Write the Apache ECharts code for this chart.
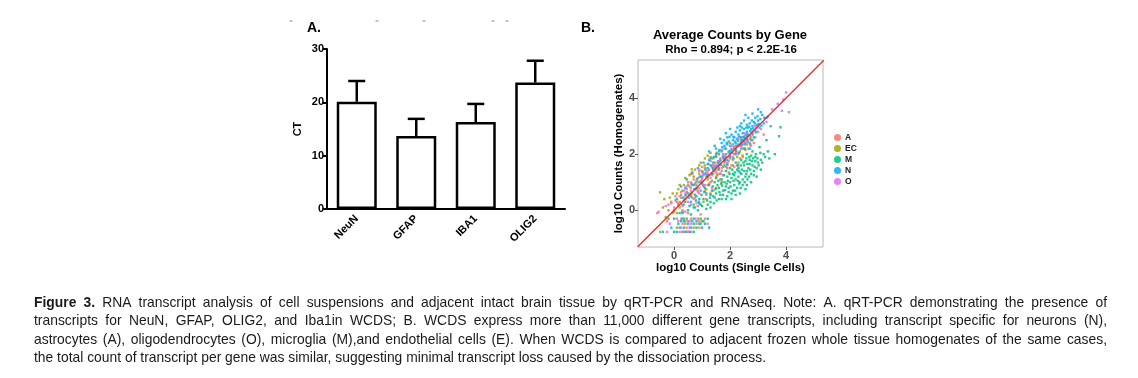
<!DOCTYPE html>
<html><head><meta charset="utf-8">
<script src="https://cdn.jsdelivr.net/npm/echarts@6/dist/echarts.min.js"></script>
<style>html,body{margin:0;padding:0;background:#fff}#c{width:1138px;height:378px}</style>
</head><body><div id="c"></div>
<script>
// ---------- Panel A data ----------
const categories = ['NeuN', 'GFAP', 'IBA1', 'OLIG2'];
const ctMean = [20.1, 13.7, 16.3, 23.7];
const ctErr = [3.9, 3.2, 3.4, 4.1];

// ---------- Panel B data (log10 single cells, log10 homogenates) ----------
const seriesNames = ['A', 'EC', 'M', 'N', 'O'];
const ptsA = [[0.0,0.1],[0.2,0.3],[0.4,0.5],[0.6,0.7],[0.8,0.9],[1.0,1.1],[1.2,1.3],[1.4,1.45],[1.6,1.6],[1.8,1.75],[2.0,1.95],[2.2,2.15],[2.4,2.35],[2.6,2.5],[2.8,2.75],[1.1,0.7],[1.3,1.0],[1.5,1.2],[1.7,1.4],[1.9,1.6],[2.1,1.8],[2.3,2.0],[2.5,2.2],[0.5,0.9],[0.7,1.1],[0.9,1.3],[1.1,1.5],[1.3,1.75],[1.5,1.95],[1.7,2.15],[0.3,0.0],[0.6,0.2],[0.9,0.6],[1.2,0.9],[2.7,2.4],[2.9,2.6],[3.0,2.8],[-0.6,-0.1],[0.1,-0.3],[0.6,-0.3],[1.1,-0.3],[0.4,-0.39],[0.9,-0.39],[0.3,-0.48],[0.8,-0.48],[0.45,-0.62],[0.9,-0.62],[0.2,-0.77],[0.6,-0.77],[3.35,3.35],[3.2,2.7],[1.65,1.1],[1.95,1.35],[1.35,1.55],[1.55,1.45],[1.75,1.85],[2.05,2.2],[2.25,1.6],[2.45,1.9],[0.75,0.45],[1.05,0.85],
  [0.15,0.25],[0.35,0.2],[0.55,0.55],[0.65,0.9],[0.85,0.7],[0.95,1.05],[1.15,1.2],[1.25,0.95],[1.35,1.25],[1.45,1.7],[1.55,1.3],[1.65,1.85],[1.85,1.9],[1.95,1.75],[2.05,1.6],[2.15,2.0],[2.25,2.3],[2.35,1.85],[2.55,2.4],[2.65,2.2],[2.75,2.6],[2.85,2.4],[0.45,0.75],[-0.2,0.2],[-0.05,-0.1],[1.75,1.25],[2.4,2.6],[2.95,2.95],
  [0.5,-0.1],[0.85,0.15],[1.15,0.4],[0.25,0.65],[0.05,0.5],[0.65,1.3],[1.0,1.55],[1.4,0.7],[0.95,-0.15],[-0.25,-0.39]];
const ptsEC = [[-0.5,0.64],[-0.1,0.3],[0.1,0.6],[0.3,0.7],[0.5,1.0],[0.7,1.2],[0.9,1.4],[1.1,1.6],[1.3,1.9],[1.5,2.0],[0.2,0.1],[0.4,0.4],[0.6,0.6],[0.8,0.75],[1.0,0.95],[1.2,1.1],[1.4,1.3],[1.6,1.45],[1.8,1.7],[2.0,1.85],[2.2,2.05],[2.4,2.3],[2.6,2.35],[0.63,1.46],[0.8,1.0],[1.0,1.4],[1.2,1.65],[1.4,1.85],[1.6,2.1],[1.8,2.2],[2.0,2.4],[1.9,1.5],[2.1,1.6],[2.3,1.7],[0.0,-0.05],[1.5,0.8],[1.7,1.0],[0.35,-0.3],[0.85,-0.3],[0.5,-0.39],[1.0,-0.39],[0.4,-0.48],[0.95,-0.48],[0.1,-0.62],[0.7,-0.62],[0.45,-0.77],[-0.2,0.0],[0.05,0.35],[2.5,2.6],[2.7,2.55],[-0.3,-0.25],[0.85,1.15],[1.05,1.25],[1.25,1.45],[1.45,1.6],[1.65,1.75],[0.55,0.85],[0.25,0.45],
  [-0.35,0.4],[-0.15,0.45],[0.15,0.2],[0.25,0.55],[0.35,0.9],[0.45,0.65],[0.65,0.45],[0.75,0.95],[0.95,1.2],[1.15,1.35],[1.35,1.6],[1.55,1.7],[1.75,1.95],[1.95,2.05],[2.15,2.25],[2.35,2.1],[2.55,2.15],[1.15,0.75],[1.35,1.05],[1.55,1.25],[1.75,1.55],[0.9,1.6],[1.1,1.85],[1.3,2.05],[0.6,1.3],[-0.4,0.1],[0.1,-0.1],[2.25,1.9],[2.45,1.95],[2.8,2.5],
  [0.2,0.9],[0.4,1.15],[0.55,1.25],[0.15,0.75],[-0.05,0.6],[0.75,1.45],[0.95,1.7],[1.2,1.95],[0.3,-0.05],[0.7,0.2],[1.05,0.3],[1.3,0.6],[-0.5,-0.77]];
const ptsM = [[1.8,1.0],[1.9,1.2],[2.0,1.0],[2.1,1.3],[2.2,1.1],[2.3,1.5],[2.4,1.3],[2.5,1.6],[2.6,1.4],[2.7,1.8],[2.8,1.6],[2.9,1.9],[3.0,1.7],[1.6,0.8],[1.7,1.1],[1.5,0.6],[1.4,0.5],[1.3,0.3],[1.2,0.2],[1.35,0.7],[1.55,0.9],[1.75,0.7],[1.95,0.8],[2.05,0.6],[2.15,0.9],[2.25,0.8],[2.35,1.0],[2.45,1.1],[2.55,1.2],[2.65,1.5],[2.75,1.3],[2.85,1.4],[2.95,1.5],[2.0,1.5],[2.2,1.7],[2.4,1.8],[2.6,2.0],[2.8,2.1],[1.85,1.4],[1.65,1.3],[1.45,1.0],[1.25,0.9],[1.15,0.6],[1.05,0.4],[0.95,0.2],[2.1,0.7],[2.3,1.2],[2.5,1.4],[2.7,1.65],[2.9,1.75],[3.1,1.8],[3.2,2.0],[1.9,0.5],[1.7,0.4],[2.45,0.9],[1.6,1.7],[1.8,1.85],[2.0,2.1],[2.2,2.3],[2.4,2.5],[2.6,2.65],[2.8,2.7],[1.4,1.5],[1.2,1.2],[1.0,1.0],[0.8,0.8],[0.6,0.5],[0.4,0.3],[0.7,0.1],[0.9,0.4],[1.1,0.8],[0.5,0.0],[0.3,-0.1],[0.0,-0.3],[0.45,-0.3],[0.95,-0.3],[1.2,-0.3],[0.25,-0.39],[0.65,-0.39],[1.05,-0.39],[0.15,-0.48],[0.7,-0.48],[1.1,-0.48],[0.35,-0.62],[0.8,-0.62],[1.25,-0.62],[0.0,-0.77],[0.3,-0.77],[0.7,-0.77],[3.75,2.64],[3.8,2.96],[3.6,2.0],[3.3,2.5],[3.05,2.25],[2.6,0.9],[1.85,0.85],[2.15,1.25],[2.35,1.35],[2.55,1.75],[2.75,1.95],[1.5,1.15],[1.3,0.55],[1.65,0.55],[2.05,1.15],[2.25,1.45],
  [1.62,0.65],[1.72,0.88],[1.82,0.72],[1.92,1.05],[2.02,0.85],[2.12,1.05],[2.18,0.7],[2.28,1.05],[2.38,0.8],[2.42,1.45],[2.52,1.0],[2.58,1.3],[2.62,1.65],[2.68,1.2],[2.72,1.45],[2.78,1.75],[2.82,1.85],[2.88,1.55],[2.92,2.0],[2.98,1.85],[3.02,1.6],[3.08,2.05],[3.15,1.7],[3.25,1.9],[3.35,2.1],[3.4,1.85],[1.38,0.85],[1.48,0.75],[1.58,1.05],[1.68,0.95],[1.78,1.25],[1.88,0.95],[1.98,1.3],[2.08,1.45],[2.18,1.35],[2.28,1.6],[2.38,1.6],[2.48,1.7],[2.58,1.85],[2.68,1.9],[1.28,0.45],[1.18,0.35],[1.08,0.65],[0.98,0.55],[0.88,0.3],[0.78,0.35],[1.52,0.35],[1.42,0.25],[1.95,0.65],[2.2,0.55],[1.75,0.55],[2.32,0.95],[2.62,1.1],[2.85,1.25],[1.9,1.65],[2.12,1.85],[2.32,2.05],[2.52,2.2],[2.72,2.35],
  [0.6,-0.15],[0.85,0.0],[1.0,0.15],[1.15,0.05],[1.3,0.1],[1.45,0.45],[1.6,0.4],[1.85,0.4],[2.05,0.4],[2.35,0.6],[2.55,0.75],[2.75,1.0],[2.95,1.2],[3.1,1.45],[0.75,0.55],[-0.2,-0.3]];
const ptsN = [[2.0,2.3],[2.1,2.5],[2.2,2.4],[2.3,2.7],[2.4,2.6],[2.5,2.9],[2.6,2.8],[2.7,3.1],[2.8,3.0],[2.9,3.3],[3.0,3.2],[3.1,3.5],[2.2,2.8],[2.35,3.0],[2.5,3.2],[2.65,3.3],[2.45,2.5],[2.55,2.7],[2.75,2.9],[2.85,3.15],[1.9,2.6],[2.05,2.7],[1.85,2.2],[2.15,2.2],[2.3,2.35],[2.6,2.55],[2.7,2.65],[2.9,2.85],[3.05,2.95],[3.2,3.1],[2.4,3.1],[2.55,3.4],[2.8,3.45],[3.0,3.6],[2.95,3.05],[2.25,2.55],[2.5,2.45],[1.95,2.45],[2.1,2.35],[2.35,2.85],[1.5,1.9],[1.6,2.0],[1.7,2.1],[1.8,2.3],[1.4,1.7],[1.3,1.6],[1.2,1.5],[1.55,1.6],[1.65,1.8],[1.75,1.9],[1.85,2.0],[1.45,1.4],[1.35,1.3],[1.1,1.3],[1.0,1.2],[1.25,1.8],[1.5,2.2],[1.7,2.4],[1.9,1.8],[1.95,2.1],[2.0,1.9],[2.2,2.0],[2.4,2.2],[1.6,1.5],[1.8,1.6],[0.9,1.0],[0.7,0.9],[0.5,0.6],[0.6,0.3],[0.8,0.5],[0.4,0.8],[0.3,0.2],[0.1,0.4],[0.95,0.7],[1.05,0.9],[0.2,-0.1],[0.75,0.1],[0.3,-0.3],[0.7,-0.3],[0.5,-0.48],[0.9,-0.48],[0.2,-0.62],[0.6,-0.62],[1.0,-0.62],[0.1,-0.77],[0.4,-0.77],[0.55,-0.77],[0.35,-0.39],[0.8,-0.39],[3.45,3.0],[3.3,3.3],[2.3,1.4],[2.7,2.2],[2.6,3.05],[2.45,2.75],[2.15,2.6],[1.9,2.35],[2.65,2.95],[2.85,2.6],
  [2.05,2.15],[2.12,2.62],[2.18,2.45],[2.28,2.48],[2.32,2.62],[2.38,2.42],[2.42,2.95],[2.48,2.62],[2.52,2.58],[2.58,2.95],[2.62,2.72],[2.68,2.98],[2.72,2.82],[2.78,3.2],[2.82,2.92],[2.88,3.1],[2.92,2.78],[2.98,3.35],[3.02,3.08],[3.08,3.25],[3.12,3.02],[3.15,3.4],[3.22,3.3],[2.26,2.95],[2.44,2.35],[2.64,2.45],[1.78,2.5],[1.88,2.4],[1.98,2.62],[2.08,2.05],[1.72,2.25],[1.62,2.15],[1.52,2.05],[1.42,1.9],[1.32,1.85],[1.22,1.65],[1.12,1.45],[1.02,1.35],[0.92,1.2],[0.82,1.1],[0.72,0.75],[0.62,0.95],[0.52,0.45],[0.42,0.55],[0.32,0.45],[1.58,1.75],[1.68,1.62],[1.82,1.78],[2.22,2.12],[2.52,2.35],[2.76,2.5],[1.48,1.55],[1.38,1.5],[1.18,1.25],
  [0.45,1.1],[0.25,0.85],[0.65,1.35],[0.85,1.5],[1.05,1.7],[1.25,2.1],[1.45,2.3],[1.65,2.55],[1.85,2.75],[2.0,2.9],[0.55,0.15],[0.9,0.25],[-0.1,-0.62],[-0.4,-0.77]];
const ptsO = [[0.2,0.5],[0.4,0.6],[0.6,0.8],[0.8,1.05],[1.0,1.15],[1.2,1.4],[1.4,1.6],[1.6,1.75],[1.8,1.95],[2.0,2.05],[2.2,2.25],[2.4,2.4],[2.6,2.6],[2.8,2.8],[1.1,0.9],[1.3,1.15],[1.5,1.35],[1.7,1.5],[1.9,1.7],[2.1,1.9],[0.7,0.4],[0.9,0.8],[0.5,0.3],[0.3,0.15],[4.0,4.2],[4.1,3.5],[3.7,3.8],[3.5,3.6],[0.25,-0.3],[0.75,-0.3],[0.15,-0.39],[0.55,-0.39],[0.6,-0.48],[1.2,-0.48],[0.25,-0.62],[0.55,-0.62],[0.35,-0.77],[0.5,-0.77],[-0.55,-0.05],[2.3,2.55],[2.5,2.75],[1.75,2.0],[2.15,1.55],[2.9,3.0],[3.1,2.9],
  [0.1,0.3],[0.35,0.35],[0.45,0.85],[0.65,0.6],[0.85,0.65],[0.95,1.0],[1.05,1.3],[1.25,1.25],[1.45,1.45],[1.55,1.6],[1.65,1.3],[1.85,1.55],[1.95,1.9],[2.05,2.3],[2.25,2.05],[2.35,2.3],[2.45,2.2],[2.55,2.45],[2.7,2.65],[2.75,2.3],[-0.3,0.15],[0.0,0.0],[3.3,3.15],[3.9,3.95],[3.85,3.55],
  [0.4,-0.05],[0.8,0.25],[1.15,0.55],[0.6,1.0],[0.35,0.7],[1.35,0.8],[0.9,1.45],[-0.1,0.25],[-0.15,-0.48],[-0.25,-0.77]];
const refLine = [[-1.3, -1.3], [5.35, 5.35]];
const bTicks = [0, 2, 4];
const seriesColors = ['#F8766D', '#A3A500', '#00BF7D', '#00B0F6', '#E76BF3'];

// ---------- Caption ----------
const captionLines = [
  'Figure 3. RNA transcript analysis of cell suspensions and adjacent intact brain tissue by qRT-PCR and RNAseq. Note: A. qRT-PCR demonstrating the presence of',
  'transcripts for NeuN, GFAP, OLIG2, and Iba1in WCDS; B. WCDS express more than 11,000 different gene transcripts, including transcript specific for neurons (N),',
  'astrocytes (A), oligodendrocytes (O), microglia (M),and endothelial cells (E). When WCDS is compared to adjacent frozen whole tissue homogenates of the same cases,',
  'the total count of transcript per gene was similar, suggesting minimal transcript loss caused by the dissociation process.'
];

const chart = echarts.init(document.getElementById('c'), null, {renderer: 'canvas'});

// caption layout (justified like the reference)
const ctx = document.createElement('canvas').getContext('2d');
function tw(font, s) { ctx.font = font; return ctx.measureText(s).width; }
const capFamily = '"Liberation Sans", Arial, sans-serif';
const capSize = 15;
const capLeft = 34, capRight = 1107, capTop = 302.5, capStep = 18.5;
const lastLineWidth = 732;
const capScale = lastLineWidth / tw(capSize + 'px ' + capFamily, captionLines[3]);
const captionEls = [];
captionLines.forEach((line, li) => {
  const words = line.split(' ');
  const fonts = words.map((w, wi) => (li === 0 && wi < 2 ? 'bold ' : '') + capSize + 'px ' + capFamily);
  const widths = words.map((w, wi) => tw(fonts[wi], w) * capScale);
  const sum = widths.reduce((a, b) => a + b, 0);
  const justify = li < captionLines.length - 1;
  const gap = justify ? (capRight - capLeft - sum) / (words.length - 1) : tw(capSize + 'px ' + capFamily, ' ') * capScale;
  let x = capLeft;
  words.forEach((w, wi) => {
    captionEls.push({type: 'text', x: x, y: capTop + li * capStep, scaleX: capScale, silent: true,
      style: {text: w, font: fonts[wi], fill: '#1a1a1a', align: 'left', verticalAlign: 'middle'}});
    x += widths[wi] + gap;
  });
});

const dashXs = [291, 377, 424, 493, 507];
const dashEls = dashXs.map(x => ({type: 'rect', shape: {x: x - 1.5, y: 20.5, width: 3, height: 1}, style: {fill: '#888'}, silent: true}));

const scatterData = [ptsA, ptsEC, ptsM, ptsN, ptsO];
const FONT = '"Liberation Sans", Arial, sans-serif';

const option = {
  backgroundColor: '#fff',
  animation: false,
  grid: [
    {left: 327, right: 573, top: 49, bottom: 169, containLabel: false},
    {left: 638, right: 315, top: 60, bottom: 131, show: true, borderColor: '#b8b8b8', borderWidth: 1, backgroundColor: 'transparent'}
  ],
  legend: {
    left: 834, top: 133, orient: 'vertical', padding: 0, itemGap: 2, itemWidth: 7, itemHeight: 7, icon: 'circle',
    data: seriesNames,
    textStyle: {fontSize: 8.5, fontWeight: 'bold', color: '#222', fontFamily: FONT, padding: [0, 0, 0, -1]}
  },
  xAxis: [
    {gridIndex: 0, type: 'category', data: categories,
     axisLine: {lineStyle: {color: '#000', width: 2}},
     axisTick: {alignWithLabel: true, length: 4, lineStyle: {color: '#000', width: 2}},
     axisLabel: {rotate: 45, margin: 8, color: '#000', fontWeight: 'bold', fontSize: 11, fontFamily: FONT},
     splitLine: {show: false}},
    {gridIndex: 1, type: 'value', min: -1.29, max: 5.32,
     name: 'log10 Counts (Single Cells)', nameLocation: 'middle', nameGap: 15,
     nameTextStyle: {fontSize: 11.5, fontWeight: 'bold', color: '#000', fontFamily: FONT},
     axisLine: {show: false, onZero: false},
     axisTick: {show: true, customValues: bTicks, length: 3, lineStyle: {color: '#555'}},
     axisLabel: {customValues: bTicks, margin: 3, color: '#4d4d4d', fontWeight: 'bold', fontSize: 11, fontFamily: FONT},
     splitLine: {show: false}}
  ],
  yAxis: [
    {gridIndex: 0, type: 'value', min: 0, max: 30, interval: 10,
     name: 'CT', nameLocation: 'middle', nameGap: 24, nameRotate: 90,
     nameTextStyle: {fontSize: 11, fontWeight: 'bold', color: '#000', fontFamily: FONT},
     axisLine: {show: true, lineStyle: {color: '#000', width: 2}},
     axisTick: {show: true, length: 4, lineStyle: {color: '#000', width: 2}},
     axisLabel: {margin: 3, color: '#000', fontWeight: 'bold', fontSize: 11, fontFamily: FONT},
     splitLine: {show: false}},
    {gridIndex: 1, type: 'value', min: -1.31, max: 5.36,
     name: 'log10 Counts (Homogenates)', nameLocation: 'middle', nameGap: 12, nameRotate: 90,
     nameTextStyle: {fontSize: 11.5, fontWeight: 'bold', color: '#000', fontFamily: FONT},
     axisLine: {show: false, onZero: false},
     axisTick: {show: true, customValues: bTicks, length: 3, lineStyle: {color: '#555'}},
     axisLabel: {customValues: bTicks, margin: 3, color: '#4d4d4d', fontWeight: 'bold', fontSize: 11, fontFamily: FONT},
     splitLine: {show: false}}
  ],
  series: [
    {type: 'bar', xAxisIndex: 0, yAxisIndex: 0, data: ctMean, barWidth: 40,
     itemStyle: {color: '#fff', borderColor: '#000', borderWidth: 2.5}, z: 2},
    {type: 'custom', xAxisIndex: 0, yAxisIndex: 0, z: 3,
     data: categories.map((c, i) => [i, ctMean[i], ctMean[i] + ctErr[i]]),
     encode: {x: 0, y: [1, 2]},
     renderItem: function (params, api) {
       const i = api.value(0);
       const p0 = api.coord([i, api.value(1)]);
       const p1 = api.coord([i, api.value(2)]);
       const half = 8.5;
       return {type: 'group', children: [
         {type: 'line', shape: {x1: p0[0], y1: p0[1], x2: p1[0], y2: p1[1]}, style: {stroke: '#000', lineWidth: 2.5}},
         {type: 'line', shape: {x1: p1[0] - half, y1: p1[1], x2: p1[0] + half, y2: p1[1]}, style: {stroke: '#000', lineWidth: 2.5}}
       ]};
     }},
    ...seriesNames.map((n, k) => ({
      type: 'scatter', name: n, xAxisIndex: 1, yAxisIndex: 1, data: scatterData[k],
      symbol: 'rect', symbolSize: 2.4, itemStyle: {color: seriesColors[k], opacity: 0.85}, silent: true
    })),
    {type: 'line', xAxisIndex: 1, yAxisIndex: 1, data: refLine, showSymbol: false, symbol: 'none', clip: true,
     lineStyle: {color: '#e8231f', width: 1.2}, z: 5, silent: true}
  ],
  graphic: [
    {type: 'text', x: 307, y: 28, style: {text: 'A.', font: 'bold 14px ' + FONT, fill: '#000', verticalAlign: 'middle'}},
    {type: 'text', x: 581, y: 28, style: {text: 'B.', font: 'bold 14px ' + FONT, fill: '#000', verticalAlign: 'middle'}},
    {type: 'text', x: 730, y: 35, style: {text: 'Average Counts by Gene', font: 'bold 13px ' + FONT, fill: '#000', align: 'center', verticalAlign: 'middle'}},
    {type: 'text', x: 731, y: 50, style: {text: 'Rho = 0.894; p < 2.2E-16', font: 'bold 11.5px ' + FONT, fill: '#000', align: 'center', verticalAlign: 'middle'}},
    ...dashEls,
    ...captionEls
  ]
};
chart.setOption(option);
</script>
</body></html>
